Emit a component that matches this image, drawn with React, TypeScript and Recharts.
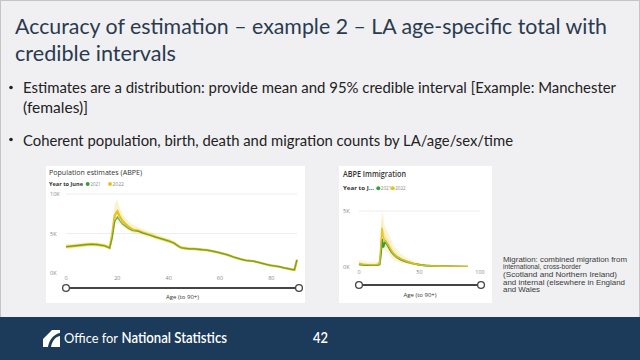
import React from 'react';
import { ComposedChart, Area, Line, XAxis, YAxis, CartesianGrid } from 'recharts';

// Population estimates (ABPE) – Manchester females, by age
const popAges = [0, 2, 5, 8, 10, 12, 15, 16, 17, 18, 19, 20, 21, 22, 23, 24, 25, 26, 28, 30, 33, 35, 38, 40, 42, 44, 45, 48, 50, 53, 55, 58, 60, 63, 65, 68, 70, 73, 75, 78, 80, 83, 85, 88, 89, 90];
const pop2021 = [3350, 3400, 3500, 3600, 3650, 3600, 3450, 3300, 3150, 4400, 6500, 7100, 6600, 6200, 5950, 5700, 5500, 5350, 5300, 5050, 4750, 4550, 4250, 4050, 3800, 3350, 3200, 3050, 3050, 2950, 2900, 2700, 2550, 2300, 2050, 1750, 1600, 1500, 1350, 1100, 950, 800, 650, 450, 400, 1700];
const pop2022 = [3300, 3380, 3480, 3600, 3620, 3600, 3450, 3350, 3200, 4800, 7300, 7800, 7100, 6600, 6250, 5950, 5700, 5500, 5350, 5100, 4800, 4550, 4250, 4050, 3800, 3350, 3200, 3050, 3050, 2950, 2900, 2700, 2550, 2300, 2050, 1750, 1600, 1500, 1350, 1100, 950, 800, 650, 450, 400, 1650];
const pop2022Low = [3000, 3080, 3200, 3330, 3360, 3350, 3200, 3100, 2950, 4000, 6300, 6600, 6200, 5900, 5650, 5400, 5200, 5050, 4950, 4750, 4450, 4250, 3950, 3780, 3550, 3120, 2980, 2850, 2850, 2760, 2720, 2530, 2400, 2160, 1920, 1630, 1490, 1400, 1260, 1020, 880, 740, 590, 400, 350, 1500];
const pop2022High = [3650, 3700, 3800, 3900, 3930, 3880, 3720, 3620, 3480, 5600, 8800, 9300, 8200, 7500, 7000, 6650, 6350, 6100, 5850, 5550, 5200, 4950, 4600, 4400, 4100, 3620, 3450, 3280, 3270, 3160, 3100, 2890, 2720, 2460, 2200, 1890, 1720, 1620, 1460, 1190, 1030, 870, 720, 510, 460, 1850];
const popYTicks = [0, 5000, 10000];
const popXTicks = [0, 20, 40, 60, 80];

// ABPE immigration by age
const immAges = [0, 3, 6, 10, 14, 16, 17, 18, 19, 20, 21, 22, 24, 26, 28, 31, 35, 40, 45, 50, 55, 60, 70, 80, 90];
const imm2021 = [250, 200, 180, 170, 180, 200, 250, 1100, 2500, 1750, 2100, 2250, 1900, 1500, 1200, 900, 650, 450, 300, 200, 140, 100, 60, 40, 30];
const imm2022 = [300, 250, 220, 200, 210, 250, 320, 1800, 3500, 2700, 2400, 2300, 2000, 1600, 1250, 930, 680, 460, 300, 200, 140, 100, 60, 40, 30];
const immOuterLow = [80, 60, 50, 50, 50, 70, 100, 700, 1800, 1500, 1500, 1400, 1200, 900, 700, 500, 350, 250, 150, 80, 50, 30, 10, 0, 0];
const immOuterHigh = [650, 550, 480, 420, 450, 520, 700, 3500, 5000, 4600, 3900, 3500, 3100, 2600, 2100, 1600, 1150, 800, 560, 400, 300, 220, 150, 110, 100];
const immInnerLow = [180, 150, 130, 120, 130, 160, 200, 1300, 2600, 2200, 1950, 1850, 1600, 1250, 950, 700, 500, 350, 220, 140, 90, 60, 30, 20, 10];
const immInnerHigh = [420, 360, 320, 290, 300, 350, 450, 2500, 4200, 3500, 3000, 2800, 2450, 2000, 1600, 1200, 870, 600, 400, 280, 200, 150, 100, 70, 60];
const immYTicks = [0, 5000];
const immXTicks = [0, 50, 100];

const GREEN = '#3b9a3f';
const YELLOW = '#e9c21b';
const PBI = '"Open Sans", "Noto Sans", sans-serif';
const SLIDE = 'Lato, "Open Sans", sans-serif';
const ARIAL = '"Liberation Sans", Arial, sans-serif';

const popData = popAges.map((age, i) => ({
  age,
  y2021: pop2021[i],
  y2022: pop2022[i],
  band: [pop2022Low[i], pop2022High[i]],
}));

const immData = immAges.map((age, i) => ({
  age,
  y2021: imm2021[i],
  y2022: imm2022[i],
  outer: [immOuterLow[i], immOuterHigh[i]],
  inner: [immInnerLow[i], immInnerHigh[i]],
}));

const fmtK = (v: number) => `${v / 1000}K`;

function YTick(props: any) {
  const { y, payload } = props;
  return (
    <text x={4} y={y} fontSize={5.5} fill="#888" fontFamily={PBI} dominantBaseline="central">
      {fmtK(payload.value)}
    </text>
  );
}

function XTick(props: any) {
  const { x, y, payload } = props;
  return (
    <text x={x} y={y + 5} fontSize={5.5} fill="#888" fontFamily={PBI} textAnchor="middle" dominantBaseline="central">
      {payload.value}
    </text>
  );
}

function Txt({ x, y, w, size, fill = '#222', weight = 400, family = SLIDE, children }: any) {
  return (
    <text x={x} y={y} fontSize={size} fill={fill} fontWeight={weight} fontFamily={family}
      textLength={w} lengthAdjust="spacingAndGlyphs">
      {children}
    </text>
  );
}

function Slider({ x1, x2, y }: any) {
  return (
    <g>
      <line x1={x1} x2={x2} y1={y} y2={y} stroke="#444" strokeWidth={2} />
      <circle cx={x1} cy={y} r={3.4} fill="#fff" stroke="#444" strokeWidth={1.3} />
      <circle cx={x2} cy={y} r={3.4} fill="#fff" stroke="#444" strokeWidth={1.3} />
    </g>
  );
}

export default function App() {
  return (
    <div style={{ position: 'fixed', left: 0, top: 0, width: 640, height: 360, background: '#f0f0f2', overflow: 'hidden' }}>
      <svg width={640} height={360} style={{ position: 'absolute', left: 0, top: 0 }}>
        <rect x={0.5} y={0.5} width={639} height={320} fill="none" stroke="#c4c4c8" />
        <rect x={46} y={166} width={259} height={137} fill="#fff" />
        <rect x={339} y={166} width={153} height={137} fill="#fff" />
        <rect x={0} y={317} width={640} height={43} fill="#1c3a5a" />
      </svg>

      <div style={{ position: 'absolute', left: 46, top: 166 }}>
        <ComposedChart width={259} height={137} data={popData} margin={{ top: 28, right: 8, bottom: 0, left: 0 }}>
          <CartesianGrid vertical={false} stroke="#ededed" horizontalValues={[5000, 10000]} />
          <XAxis dataKey="age" type="number" domain={[0, 90]} ticks={popXTicks} tick={<XTick />}
            axisLine={false} tickLine={false} tickSize={0} tickMargin={0} height={30} />
          <YAxis type="number" domain={[0, 10000]} ticks={popYTicks} tick={<YTick />}
            axisLine={false} tickLine={false} width={20} />
          <Area dataKey="band" type="linear" stroke="none" fill={YELLOW} fillOpacity={0.22} isAnimationActive={false} />
          <Line dataKey="y2022" type="linear" stroke={YELLOW} strokeWidth={2.4} dot={false} isAnimationActive={false} />
          <Line dataKey="y2021" type="linear" stroke={GREEN} strokeWidth={1.2} strokeOpacity={0.75} dot={false} isAnimationActive={false} />
        </ComposedChart>
      </div>

      <div style={{ position: 'absolute', left: 339, top: 166 }}>
        <ComposedChart width={153} height={137} data={immData} margin={{ top: 45, right: 12, bottom: 0, left: 0 }}>
          <CartesianGrid vertical={false} stroke="#ededed" horizontalValues={[5000]} />
          <XAxis dataKey="age" type="number" domain={[0, 100]} ticks={immXTicks} tick={<XTick />}
            axisLine={false} tickLine={false} tickSize={0} tickMargin={0} height={36} />
          <YAxis type="number" domain={[0, 5000]} ticks={immYTicks} tick={<YTick />}
            axisLine={false} tickLine={false} width={20} allowDataOverflow />
          <Area dataKey="outer" type="linear" stroke="none" fill={YELLOW} fillOpacity={0.18} isAnimationActive={false} />
          <Area dataKey="inner" type="linear" stroke="none" fill={YELLOW} fillOpacity={0.25} isAnimationActive={false} />
          <Line dataKey="y2021" type="linear" stroke={GREEN} strokeWidth={2} dot={false} isAnimationActive={false} />
          <Line dataKey="y2022" type="linear" stroke={YELLOW} strokeWidth={1.6} strokeOpacity={0.9} dot={false} isAnimationActive={false} />
        </ComposedChart>
      </div>

      <svg width={640} height={360} style={{ position: 'absolute', left: 0, top: 0, pointerEvents: 'none' }}>
        {/* slide title */}
        <Txt x={15} y={34} w={592} size={22} fill="#2a3a4f">Accuracy of estimation – example 2 – LA age-specific total with</Txt>
        <Txt x={15} y={61} w={161} size={22} fill="#2a3a4f">credible intervals</Txt>

        {/* bullets */}
        <circle cx={11} cy={87.5} r={1.8} fill="#222" />
        <Txt x={23} y={93} w={593} size={15}>Estimates are a distribution: provide mean and 95% credible interval [Example: Manchester</Txt>
        <Txt x={23} y={112.5} w={65} size={15}>(females)]</Txt>
        <circle cx={11} cy={139.5} r={1.8} fill="#222" />
        <Txt x={23} y={145.5} w={490} size={15}>Coherent population, birth, death and migration counts by LA/age/sex/time</Txt>

        {/* left visual header */}
        <Txt x={49} y={175} w={93} size={8} fill="#333" family={PBI}>Population estimates (ABPE)</Txt>
        <Txt x={49} y={186} w={34} size={5.5} fill="#333" weight={700} family={PBI}>Year to June</Txt>
        <circle cx={87.7} cy={184} r={2} fill={GREEN} />
        <Txt x={90.5} y={186} w={10} size={5.5} fill="#888" family={PBI}>2021</Txt>
        <circle cx={110} cy={184} r={2} fill={YELLOW} />
        <Txt x={112.5} y={186} w={11.5} size={5.5} fill="#888" family={PBI}>2022</Txt>
        <Slider x1={66} x2={299} y={288} />
        <Txt x={166} y={299} w={33} size={6} fill="#333" family={PBI}>Age (to 90+)</Txt>

        {/* right visual header */}
        <Txt x={343} y={177} w={63} size={8.5} fill="#333" weight={600} family={PBI}>ABPE Immigration</Txt>
        <Txt x={343} y={190} w={31} size={5.5} fill="#333" weight={700} family={PBI}>Year to J...</Txt>
        <circle cx={378.3} cy={188.3} r={2} fill={GREEN} />
        <Txt x={380.8} y={190} w={10.5} size={5.5} fill="#888" family={PBI}>2021</Txt>
        <circle cx={392.8} cy={188.3} r={2} fill={YELLOW} />
        <Txt x={395.2} y={190} w={10.5} size={5.5} fill="#888" family={PBI}>2022</Txt>
        <Slider x1={359} x2={481} y={285} />
        <Txt x={403.5} y={297} w={33} size={6} fill="#333" family={PBI}>Age (to 90+)</Txt>

        {/* note */}
        <Txt x={503} y={261.5} w={124} size={7.5} fill="#3a3a3a" family={ARIAL}>Migration: combined migration from</Txt>
        <Txt x={503} y={269} w={78} size={7.5} fill="#3a3a3a" family={ARIAL}>international, cross-border</Txt>
        <Txt x={503} y={276.5} w={114} size={7.5} fill="#3a3a3a" family={ARIAL}>(Scotland and Northern Ireland)</Txt>
        <Txt x={503} y={284.5} w={122} size={7.5} fill="#3a3a3a" family={ARIAL}>and internal (elsewhere in England</Txt>
        <Txt x={503} y={292} w={37} size={7.5} fill="#3a3a3a" family={ARIAL}>and Wales</Txt>

        {/* footer */}
        <path d="M43 339 L52 330 L60 330 L60 333 C54 334 49 340 48 347 L43 347 Z" fill="#fff" />
        <path d="M51 347 C52 341 55 337 60 336 L60 347 Z" fill="#fff" />
        <Txt x={64} y={343} w={54} size={13.5} fill="#fff">Office for</Txt>
        <Txt x={121.5} y={343} w={105.5} size={15} fill="#fff" weight={600}>National Statistics</Txt>
        <Txt x={313} y={343} w={15} size={15} fill="#fff" weight={600}>42</Txt>
      </svg>
    </div>
  );
}
